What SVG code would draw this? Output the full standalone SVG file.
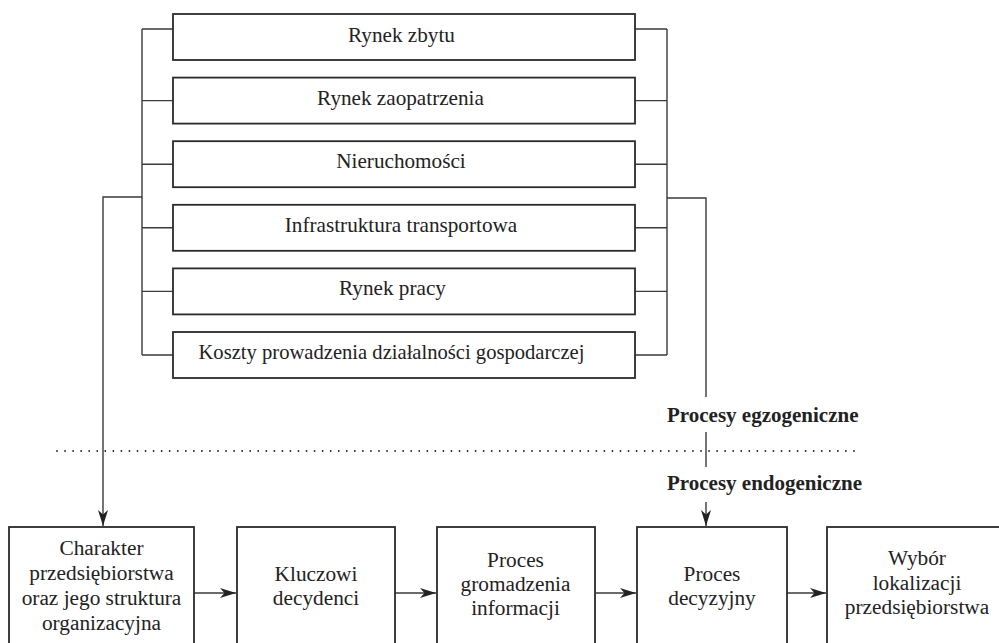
<svg xmlns="http://www.w3.org/2000/svg" width="999" height="643" viewBox="0 0 999 643">
<style>
.box{fill:#fff;stroke:#2b2b2b;stroke-width:1.8}
.t{font-family:'Liberation Serif','Tinos','Nimbus Roman','DejaVu Serif',serif;fill:#222;text-anchor:middle}
.top{font-size:21.2px}
.bot{font-size:21.3px}
.lbl{font-family:'Liberation Serif','Tinos','Nimbus Roman','DejaVu Serif',serif;font-size:21px;font-weight:bold;fill:#222}
.c{fill:none;stroke:#3a3a3a;stroke-width:1.4}
.dot{fill:none;stroke:#222;stroke-width:1.8;stroke-dasharray:0 8.05;stroke-linecap:round}
</style>
<defs>
<marker id="ah" markerUnits="userSpaceOnUse" markerWidth="18" markerHeight="12" refX="16" refY="5" orient="auto">
<path d="M0,0 L16,5 L0,10 L4.5,5 z" fill="#222"/>
</marker>
</defs>
<rect width="999" height="643" fill="#fff"/>
<g id="connectors">
<path class="c" d="M142,29 V355 M142,29 H173 M142,100.6 H173 M142,164.2 H173 M142,227.8 H173 M142,291.4 H173 M142,355 H173"/>
<path class="c" d="M667,29 V355 M635,29 H667 M635,100.6 H667 M635,164.2 H667 M635,227.8 H667 M635,291.4 H667 M635,355 H667"/>
<path class="c" d="M142,197 H103 V526" marker-end="url(#ah)"/>
<path class="c" d="M667,198 H706 V397"/>
<path class="c" d="M706,432 V467"/>
<path class="c" d="M706,502 V526" marker-end="url(#ah)"/>
<path class="c" d="M194,593 H236" marker-end="url(#ah)"/>
<path class="c" d="M395,593 H436" marker-end="url(#ah)"/>
<path class="c" d="M596,593 H636" marker-end="url(#ah)"/>
<path class="c" d="M787,593 H826" marker-end="url(#ah)"/>
<path class="dot" d="M57,451 H856"/>
</g>
<g id="n1"><rect class="box" x="173" y="14" width="462" height="46"/><text class="t top" x="401.5" y="41.5">Rynek zbytu</text></g>
<g id="n2"><rect class="box" x="173" y="77.6" width="462" height="46"/><text class="t top" x="400.5" y="105">Rynek zaopatrzenia</text></g>
<g id="n3"><rect class="box" x="173" y="141.2" width="462" height="46"/><text class="t top" x="401" y="168.3">Nieruchomości</text></g>
<g id="n4"><rect class="box" x="173" y="204.8" width="462" height="46"/><text class="t top" x="401" y="231.8">Infrastruktura transportowa</text></g>
<g id="n5"><rect class="box" x="173" y="268.4" width="462" height="46"/><text class="t top" x="392.5" y="295.4">Rynek pracy</text></g>
<g id="n6"><rect class="box" x="173" y="332" width="462" height="46"/><text class="t top" x="391.5" y="359" style="font-size:20.6px">Koszty prowadzenia działalności gospodarczej</text></g>
<g id="lbl-egzo"><text class="lbl" x="667" y="422">Procesy egzogeniczne</text></g>
<g id="lbl-endo"><text class="lbl" x="667" y="490">Procesy endogeniczne</text></g>
<g id="b1"><rect class="box" x="9" y="527" width="185" height="140"/>
<text class="t bot" x="101.5" y="555">Charakter</text>
<text class="t bot" x="101.5" y="580">przedsiębiorstwa</text>
<text class="t bot" x="101.5" y="605">oraz jego struktura</text>
<text class="t bot" x="101.5" y="630">organizacyjna</text></g>
<g id="b2"><rect class="box" x="237" y="527" width="158" height="140"/>
<text class="t bot" x="316" y="580.5">Kluczowi</text>
<text class="t bot" x="316" y="605">decydenci</text></g>
<g id="b3"><rect class="box" x="437" y="527" width="158" height="140"/>
<text class="t bot" x="515.5" y="566.5">Proces</text>
<text class="t bot" x="515.5" y="591">gromadzenia</text>
<text class="t bot" x="515.5" y="615">informacji</text></g>
<g id="b4"><rect class="box" x="637" y="527" width="150" height="140"/>
<text class="t bot" x="712" y="580.5">Proces</text>
<text class="t bot" x="712" y="605">decyzyjny</text></g>
<g id="b5"><rect class="box" x="827" y="527" width="180" height="140"/>
<text class="t bot" x="917" y="565">Wybór</text>
<text class="t bot" x="917" y="590">lokalizacji</text>
<text class="t bot" x="917" y="614">przedsiębiorstwa</text></g>
</svg>
